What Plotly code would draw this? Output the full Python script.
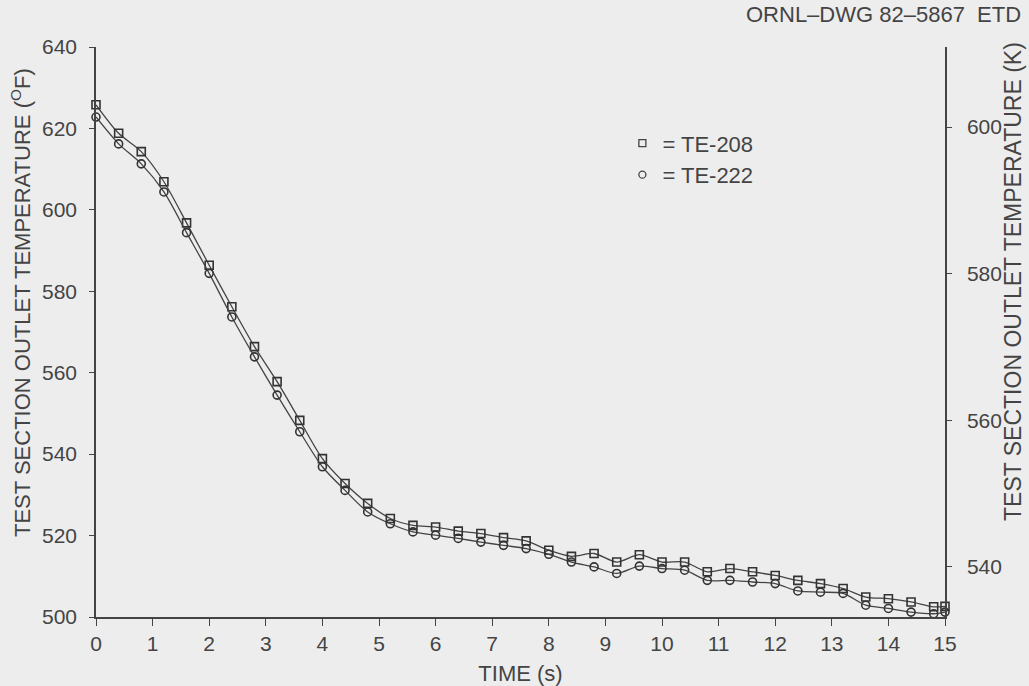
import plotly.graph_objects as go

# ---- data ----
time_s = [0.0, 0.4, 0.8, 1.2, 1.6, 2.0, 2.4, 2.8, 3.2, 3.6, 4.0, 4.4, 4.8, 5.2,
          5.6, 6.0, 6.4, 6.8, 7.2, 7.6, 8.0, 8.4, 8.8, 9.2, 9.6, 10.0, 10.4,
          10.8, 11.2, 11.6, 12.0, 12.4, 12.8, 13.2, 13.6, 14.0, 14.4, 14.8, 15.0]

te208_F = [625.8, 618.8, 614.3, 606.9, 596.8, 586.4, 576.2, 566.4, 557.8, 548.3,
           538.9, 532.8, 527.9, 524.2, 522.5, 522.1, 521.1, 520.5, 519.5, 518.7,
           516.4, 514.9, 515.6, 513.5, 515.3, 513.5, 513.5, 511.1, 511.9, 511.1,
           510.2, 509.0, 508.2, 507.0, 504.9, 504.5, 503.7, 502.5, 502.6]

te222_F = [622.8, 616.2, 611.3, 604.4, 594.4, 584.4, 573.7, 563.9, 554.5, 545.5,
           536.9, 531.1, 525.8, 522.9, 520.9, 520.1, 519.3, 518.4, 517.6, 516.8,
           515.4, 513.5, 512.3, 510.7, 512.5, 511.9, 511.5, 509.0, 509.0, 508.6,
           508.2, 506.4, 506.1, 505.8, 502.9, 502.1, 501.2, 500.8, 501.2]

x_ticks = [0, 1, 2, 3, 4, 5, 6, 7, 8, 9, 10, 11, 12, 13, 14, 15]
y_ticks_F = [500, 520, 540, 560, 580, 600, 620, 640]
y_ticks_K = [540, 560, 580, 600]
range_F = [500, 640]


def f_to_k(f):
    return (f - 32.0) * 5.0 / 9.0 + 273.15


range_K = [f_to_k(v) for v in range_F]

INK = "#444444"
BG = "#ededed"
FONT = "Liberation Sans, Arial, sans-serif"

fig = go.Figure()

fig.add_trace(go.Scatter(
    x=time_s, y=te208_F, mode="lines+markers", name="= TE-208",
    line=dict(color=INK, width=1.3, shape="spline", smoothing=0.8),
    marker=dict(symbol="square-open", size=8, color="#333333", line=dict(width=1.6)),
    cliponaxis=False, showlegend=False))

fig.add_trace(go.Scatter(
    x=time_s, y=te222_F, mode="lines+markers", name="= TE-222",
    line=dict(color=INK, width=1.3, shape="spline", smoothing=0.8),
    marker=dict(symbol="circle-open", size=8, color="#333333", line=dict(width=1.6)),
    cliponaxis=False, showlegend=False))

# legend-only entries (marker symbol only, as in the reference)
fig.add_trace(go.Scatter(x=[None], y=[None], mode="markers", name="= TE-208",
                         marker=dict(symbol="square-open", size=7, color=INK, line=dict(width=1.3)),
                         legendgroup="a"))
fig.add_trace(go.Scatter(x=[None], y=[None], mode="markers", name="= TE-222",
                         marker=dict(symbol="circle-open", size=7, color=INK, line=dict(width=1.3)),
                         legendgroup="b"))

# invisible trace to anchor the Kelvin axis
fig.add_trace(go.Scatter(x=[time_s[0]], y=[f_to_k(te208_F[0])], yaxis="y2",
                         mode="markers", marker=dict(opacity=0), showlegend=False,
                         hoverinfo="skip"))

axis_common = dict(showline=True, linecolor=INK, linewidth=1.5, ticks="outside",
                   tickcolor=INK, tickwidth=1.2, showgrid=False, zeroline=False,
                   automargin=False,
                   tickfont=dict(family=FONT, size=21, color=INK))

fig.update_layout(
    width=1029, height=686,
    margin=dict(l=96, r=84, t=47, b=69),
    paper_bgcolor=BG, plot_bgcolor=BG,
    font=dict(family=FONT, size=21, color=INK),
    xaxis=dict(range=[0, 15], tickvals=x_ticks, ticklen=7,
               title=dict(text="TIME (s)", font=dict(family=FONT, size=22, color=INK), standoff=12),
               **axis_common),
    yaxis=dict(range=range_F, tickvals=y_ticks_F, ticklen=5, ticklabelstandoff=8,
               **axis_common),
    yaxis2=dict(range=range_K, tickvals=y_ticks_K, ticklen=5, overlaying="y", side="right",
                ticklabelstandoff=11, **axis_common),
    legend=dict(x=0.62, y=0.868, xanchor="left", yanchor="top", bgcolor="rgba(0,0,0,0)",
                font=dict(family=FONT, size=22, color=INK), tracegroupgap=0,
                itemwidth=30),
    showlegend=True,
)

fig.add_annotation(text="TEST SECTION OUTLET TEMPERATURE (<sup>O</sup>F)", textangle=-90,
                   xref="paper", yref="paper", x=(21 - 96) / 849, y=(617 - 303) / 570,
                   xanchor="center", yanchor="middle", showarrow=False,
                   font=dict(family=FONT, size=22, color=INK))
fig.add_annotation(text="TEST SECTION OUTLET TEMPERATURE (K)", textangle=-90,
                   xref="paper", yref="paper", x=(1013 - 96) / 849, y=(617 - 281) / 570,
                   xanchor="center", yanchor="middle", showarrow=False,
                   font=dict(family=FONT, size=23, color=INK))
fig.add_annotation(text="ORNL\u2013DWG 82\u20135867  ETD",
                   xref="paper", yref="paper", x=(1023 - 96) / 849, y=(617 - 14) / 570,
                   xanchor="right", yanchor="middle", showarrow=False,
                   font=dict(family=FONT, size=22, color=INK))

fig.write_html("out.html")
